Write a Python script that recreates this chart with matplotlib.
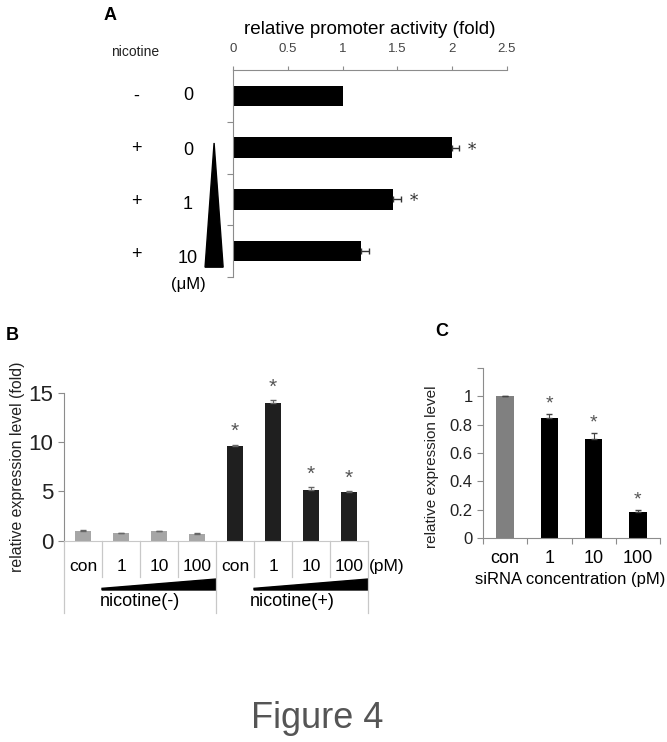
import numpy as np
import matplotlib
matplotlib.use('Agg')
import matplotlib.pyplot as plt
from matplotlib.patches import Polygon
import matplotlib.transforms as mtransforms

plt.rcParams['font.family'] = ['Liberation Sans', 'DejaVu Sans']

# panel A data
a_nicotine = ['-', '+', '+', '+']
a_dose = ['0', '0', '1', '10']
a_values = [1.0, 2.0, 1.46, 1.17]
a_err = [0.0, 0.06, 0.07, 0.07]
a_star = [False, True, True, False]

# panel B data
b_labels = ['con', '1', '10', '100', 'con', '1', '10', '100']
b_values = [1.0, 0.75, 0.95, 0.72, 9.6, 14.0, 5.15, 4.93]
b_err = [0.05, 0.08, 0.06, 0.04, 0.15, 0.25, 0.25, 0.12]
b_star = [False, False, False, False, True, True, True, True]

# panel C data
c_labels = ['con', '1', '10', '100']
c_values = [1.0, 0.845, 0.70, 0.185]
c_err = [0.005, 0.03, 0.04, 0.01]
c_star = [False, True, True, True]

axcol = '#8c8c8c'
W, H = 667, 742
fig = plt.figure(figsize=(W / 100, H / 100), dpi=100)


def rect(l, r, t, b):
    return [l / W, 1 - b / H, (r - l) / W, (b - t) / H]


# ---------------- panel A ----------------
axA = fig.add_axes(rect(233, 507, 70, 277))
ya = np.arange(len(a_values))
axA.barh(ya, a_values, height=0.4, color='black', zorder=2)
has_err = np.array(a_err) > 0
axA.errorbar(np.array(a_values)[has_err], ya[has_err],
             xerr=[np.zeros(has_err.sum()), np.array(a_err)[has_err]], fmt='none',
             ecolor='#333333', elinewidth=1, capsize=2.5)
for i in range(4):
    if a_star[i]:
        axA.text(a_values[i] + a_err[i] + 0.12, ya[i] + 0.05, '*',
                 family='DejaVu Serif', fontsize=12, ha='center', va='center',
                 color='#333333')
axA.set_xlim(0, 2.5)
axA.set_ylim(3.5, -0.5)
axA.xaxis.tick_top()
axA.set_xticks([0, 0.5, 1, 1.5, 2, 2.5])
axA.set_xticklabels(['0', '0.5', '1', '1.5', '2', '2.5'])
axA.tick_params(axis='x', labelsize=9.5, colors=axcol, labelcolor='#444444',
                length=3, pad=8)
axA.set_yticks([0.5, 1.5, 2.5, 3.5])
axA.set_yticklabels([])
axA.tick_params(axis='y', colors=axcol, length=4)
for s in ['right', 'bottom']:
    axA.spines[s].set_visible(False)
for s in ['top', 'left']:
    axA.spines[s].set_color(axcol)
axA.set_title('relative promoter activity (fold)', fontsize=13.6, pad=26)

tA = mtransforms.blended_transform_factory(axA.transAxes, axA.transData)
axA.text(-0.357, -0.84, 'nicotine', transform=tA, fontsize=10,
         ha='center', va='center', color='#222222')
for i in range(4):
    axA.text(-0.354, ya[i] + 0.02 * i, a_nicotine[i], transform=tA, fontsize=13,
             ha='center', va='center')
    axA.text(-0.164, ya[i] + 0.05 * i, a_dose[i], transform=tA, fontsize=13,
             ha='center', va='center')
axA.text(-0.164, 3.65, '(μM)', transform=tA, fontsize=12, ha='center', va='center')
axA.add_patch(Polygon([(-0.069, 0.91), (-0.102, 3.31), (-0.036, 3.31)],
                      closed=True, color='black', transform=tA, clip_on=False))
fig.text(110 / W, 1 - 15 / H, 'A', fontsize=13, fontweight='bold',
         ha='center', va='center')

# ---------------- panel B ----------------
axB = fig.add_axes(rect(64, 368, 392.7, 540.7))
xb = np.arange(len(b_values))
b_colors = ['#a6a6a6'] * 4 + ['#1f1f1f'] * 4
axB.bar(xb, b_values, width=0.4, color=b_colors, zorder=2)
axB.errorbar(xb, b_values, yerr=[np.zeros(8), b_err], fmt='none',
             ecolor='#666666', elinewidth=0.8, capsize=2)
for i in range(8):
    if b_star[i]:
        axB.text(xb[i], b_values[i] + b_err[i] + 1.3, '*', fontsize=15,
                 ha='center', va='center', color='#555555')
axB.set_xlim(-0.5, 7.5)
axB.set_ylim(0, 15)
axB.set_yticks([0, 5, 10, 15])
axB.tick_params(axis='y', labelsize=16, colors=axcol, labelcolor='#222222',
                length=4)
axB.set_xticks([])
for s in ['right', 'top']:
    axB.spines[s].set_visible(False)
axB.spines['left'].set_color(axcol)
axB.spines['bottom'].set_color('#c8c8c8')

tB = axB.get_xaxis_transform()
for xv in [-0.5, 3.5, 7.5]:
    axB.plot([xv, xv], [0, -0.49], color='#c8c8c8', lw=0.9,
             transform=tB, clip_on=False)
for xv in [0.5, 1.5, 2.5, 4.5, 5.5, 6.5]:
    axB.plot([xv, xv], [0, -0.245], color='#c8c8c8', lw=0.9,
             transform=tB, clip_on=False)
for i in range(8):
    axB.text(xb[i], -0.171, b_labels[i], transform=tB, fontsize=12.5,
             ha='center', va='center')
axB.text(8.0, -0.171, '(pM)', transform=tB, fontsize=12.5, ha='center', va='center')
for x0, x1 in [(0.5, 3.5), (4.5, 7.5)]:
    axB.add_patch(Polygon([(x0, -0.333), (x0, -0.322), (x1, -0.259), (x1, -0.333)],
                          closed=True, color='black', transform=tB, clip_on=False))
axB.text(1.5, -0.414, 'nicotine(-)', transform=tB, fontsize=13,
         ha='center', va='center')
axB.text(5.5, -0.414, 'nicotine(+)', transform=tB, fontsize=13,
         ha='center', va='center')
fig.text(18 / W, 1 - 467 / H, 'relative expression level (fold)', rotation=90,
         fontsize=11.4, ha='center', va='center', color='#222222')
fig.text(12 / W, 1 - 336 / H, 'B', fontsize=13, fontweight='bold',
         ha='center', va='center')

# ---------------- panel C ----------------
axC = fig.add_axes(rect(483, 660, 368, 538))
xc = np.arange(len(c_values))
c_colors = ['#808080'] + ['black'] * 3
axC.bar(xc, c_values, width=0.4, color=c_colors, zorder=2)
axC.errorbar(xc, c_values, yerr=[np.zeros(4), c_err], fmt='none',
             ecolor='#444444', elinewidth=0.8, capsize=2)
for i in range(4):
    if c_star[i]:
        axC.text(xc[i], c_values[i] + c_err[i] + 0.07, '*', fontsize=14,
                 ha='center', va='center', color='#555555')
axC.set_xlim(-0.5, 3.5)
axC.set_ylim(0, 1.2)
axC.set_yticks([0, 0.2, 0.4, 0.6, 0.8, 1.0, 1.2])
axC.set_yticklabels(['0', '0.2', '0.4', '0.6', '0.8', '1', ''])
axC.tick_params(axis='y', labelsize=12, colors=axcol, labelcolor='#222222',
                length=4)
axC.set_xticks([-0.5, 0.5, 1.5, 2.5, 3.5])
axC.set_xticklabels([])
axC.tick_params(axis='x', colors=axcol, length=4)
for s in ['right', 'top']:
    axC.spines[s].set_visible(False)
for s in ['left', 'bottom']:
    axC.spines[s].set_color(axcol)
tC = axC.get_xaxis_transform()
for i in range(4):
    axC.text(xc[i], -0.118, c_labels[i], transform=tC, fontsize=13,
             ha='center', va='center')
axC.text(0.49, -0.247, 'siRNA concentration (pM)', transform=axC.transAxes,
         fontsize=12, ha='center', va='center')
fig.text(432 / W, 1 - 467 / H, 'relative expression level', rotation=90,
         fontsize=11, ha='center', va='center', color='#222222')
fig.text(442 / W, 1 - 332 / H, 'C', fontsize=13, fontweight='bold',
         ha='center', va='center')

fig.text(317 / W, 1 - 718 / H, 'Figure 4', fontsize=26, color='#555555',
         ha='center', va='center')

fig.savefig('out.png', dpi=100)
